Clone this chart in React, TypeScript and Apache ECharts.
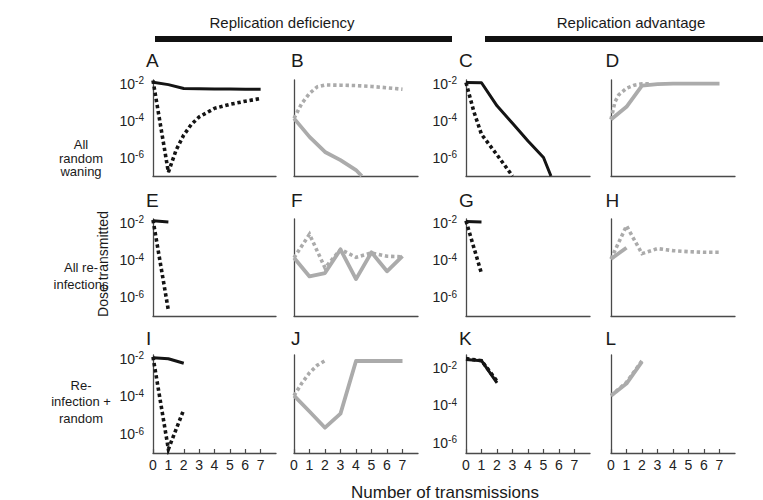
import React, { useEffect, useRef } from 'react';
import * as echarts from 'echarts';

const FONT = '"Liberation Sans", Arial, Helvetica, sans-serif';

const columnTitles = ['Replication deficiency', 'Replication advantage'];
const rowLabels = [['All', 'random', 'waning'], ['All re-', 'infections'], ['Re-', 'infection +', 'random']];
const panelLetters = ['A', 'B', 'C', 'D', 'E', 'F', 'G', 'H', 'I', 'J', 'K', 'L'];
const xTickValues = [0, 1, 2, 3, 4, 5, 6, 7];
const yTickExponents = [-2, -4, -6];
const yAxisTitle = 'Dose transmitted';
const xAxisTitle = 'Number of transmissions';

// Panel A
const aSolidX = [0, 1, 2, 3, 4, 5, 6, 7];
const aSolidY = [1.2e-2, 8.9e-3, 5.5e-3, 5.4e-3, 5.2e-3, 5.1e-3, 5.0e-3, 5.0e-3];
const aDotX = [0, 1, 1.5, 2, 2.5, 3, 4, 5, 6, 7];
const aDotY = [1.5e-2, 1.6e-7, 2.5e-6, 1.66e-5, 6.3e-5, 1.58e-4, 4.6e-4, 7.6e-4, 1.12e-3, 1.58e-3];
// Panel B
const bSolidX = [0, 1, 2, 3, 4, 4.37];
const bSolidY = [1.32e-4, 1.32e-5, 2.0e-6, 7.2e-7, 2.1e-7, 1.0e-7];
const bDotX = [0, 0.5, 1, 1.5, 2, 3, 4, 5, 6, 7];
const bDotY = [1.32e-4, 8.5e-4, 2.95e-3, 6.8e-3, 8.5e-3, 8.3e-3, 7.9e-3, 7.1e-3, 6.0e-3, 5.0e-3];
// Panel C
const cSolidX = [0, 1, 2, 3, 4, 5, 5.48];
const cSolidY = [1.15e-2, 1.12e-2, 6.3e-4, 7.1e-5, 7.9e-6, 1.0e-6, 1.0e-7];
const cDotX = [0, 0.5, 1, 2, 3];
const cDotY = [1.15e-2, 3.2e-4, 1.8e-5, 1.4e-6, 1.0e-7];
// Panel D
const dSolidX = [0, 1, 2, 3, 4, 5, 6, 7];
const dSolidY = [1.15e-4, 5.6e-4, 7.9e-3, 9.5e-3, 1.0e-2, 1.0e-2, 1.0e-2, 1.0e-2];
const dDotX = [0, 0.25, 0.5, 1, 1.5, 2, 2.5];
const dDotY = [1.15e-4, 1.0e-3, 2.5e-3, 5.6e-3, 8.3e-3, 1.0e-2, 1.0e-2];
// Panel E
const eSolidX = [0, 1];
const eSolidY = [1.26e-2, 1.1e-2];
const eDotX = [0, 1];
const eDotY = [1.41e-2, 2.0e-7];
// Panel F
const fSolidX = [0, 1, 2, 3, 4, 5, 6, 7];
const fSolidY = [1.32e-4, 1.32e-5, 2.0e-5, 3.7e-4, 9.5e-6, 2.6e-4, 2.5e-5, 1.6e-4];
const fDotX = [0, 1, 2, 3, 4, 5, 6, 7];
const fDotY = [1.32e-4, 2.4e-3, 3.8e-5, 3.7e-4, 1.4e-4, 2.4e-4, 1.6e-4, 1.5e-4];
// Panel G
const gSolidX = [0, 1];
const gSolidY = [1.15e-2, 1.1e-2];
const gDotX = [0, 1];
const gDotY = [1.26e-2, 1.9e-5];
// Panel H
const hSolidX = [0, 1];
const hSolidY = [1.15e-4, 4.6e-4];
const hDotX = [0, 1, 2, 3, 4, 5, 6, 7];
const hDotY = [1.15e-4, 6.8e-3, 2.2e-4, 4.1e-4, 3.2e-4, 2.8e-4, 2.6e-4, 2.6e-4];
// Panel I
const iSolidX = [0, 1, 2];
const iSolidY = [1.12e-2, 1.0e-2, 5.8e-3];
const iDotX = [0, 1, 2];
const iDotY = [1.26e-2, 1.6e-7, 2.0e-5];
// Panel J
const jSolidX = [0, 1, 2, 3, 4, 5, 6, 7];
const jSolidY = [1.1e-4, 1.6e-5, 2.2e-6, 1.23e-5, 7.6e-3, 7.6e-3, 7.6e-3, 7.6e-3];
const jDotX = [0, 0.5, 1, 1.5, 2];
const jDotY = [1.1e-4, 5.0e-4, 1.8e-3, 4.5e-3, 7.9e-3];
// Panel K
const kSolidX = [0, 1, 2];
const kSolidY = [2.9e-2, 2.5e-2, 1.6e-3];
const kDotX = [0, 1, 2];
const kDotY = [3.2e-2, 2.5e-2, 2.0e-3];
// Panel L
const lSolidX = [0, 1, 2];
const lSolidY = [1.1e-4, 4.8e-4, 7.1e-3];
const lDotX = [0, 1, 2];
const lDotY = [1.1e-4, 5.6e-4, 7.9e-3];

// y-axis ranges (standard panels and panel K)
const yRangeStd = [1e-7, 0.01585];
const yRangeK = [2.82e-7, 5.01e-2];

const panels = [
  [aSolidX, aSolidY, aDotX, aDotY],
  [bSolidX, bSolidY, bDotX, bDotY],
  [cSolidX, cSolidY, cDotX, cDotY],
  [dSolidX, dSolidY, dDotX, dDotY],
  [eSolidX, eSolidY, eDotX, eDotY],
  [fSolidX, fSolidY, fDotX, fDotY],
  [gSolidX, gSolidY, gDotX, gDotY],
  [hSolidX, hSolidY, hDotX, hDotY],
  [iSolidX, iSolidY, iDotX, iDotY],
  [jSolidX, jSolidY, jDotX, jDotY],
  [kSolidX, kSolidY, kDotX, kDotY],
  [lSolidX, lSolidY, lDotX, lDotY],
];

const colLeft = [153, 294, 466, 611];
const colWidth = [123, 124, 124, 124];
const rowTop = [80, 219, 355];
const rowHeight = [96, 97, 98];
const letterX = [146, 291, 459, 605.5];
const letterY = [60.5, 200, 338];

const BLACK = '#141414';
const GRAY = '#ababab';
const AXIS = '#4a4a4a';

export default function App() {
  const ref = useRef<HTMLDivElement>(null);

  useEffect(() => {
    if (!ref.current) return;
    const chart = echarts.init(ref.current, undefined, { renderer: 'svg' });

    const grids: any[] = [];
    const xAxes: any[] = [];
    const yAxes: any[] = [];
    const series: any[] = [];

    panels.forEach((p, idx) => {
      const row = Math.floor(idx / 4);
      const col = idx % 4;
      const isBlack = col === 0 || col === 2;
      const color = isBlack ? BLACK : GRAY;
      const bottomRow = row === 2;
      const range = idx === 10 ? yRangeK : yRangeStd;

      grids.push({ left: colLeft[col], top: rowTop[row], width: colWidth[col], height: rowHeight[row], containLabel: false });
      xAxes.push({
        type: 'value', gridIndex: idx, min: 0, max: 8, interval: 1,
        axisLine: { show: true, lineStyle: { color: AXIS, width: 1.3 } },
        splitLine: { show: false },
        axisTick: { show: bottomRow, inside: true, length: 4, customValues: xTickValues, lineStyle: { color: AXIS, width: 1.2 } },
        axisLabel: {
          show: bottomRow, customValues: xTickValues, fontSize: 14, color: '#222', margin: 5, fontFamily: FONT,
          formatter: (v: number) => (xTickValues.includes(v) ? String(v) : ''),
        },
      });
      yAxes.push({
        type: 'log', logBase: 10, gridIndex: idx, min: range[0], max: range[1],
        axisLine: { show: true, lineStyle: { color: AXIS, width: 1.3 } },
        splitLine: { show: false },
        axisTick: { show: false },
        axisLabel: {
          show: col === 0 || col === 2,
          margin: 9,
          showMinLabel: true, showMaxLabel: true,
          formatter: (v: number) => {
            const e = Math.round(Math.log10(v) * 100) / 100;
            return yTickExponents.includes(e) ? `{b|10}{s|${e}}` : '';
          },
          rich: {
            b: { fontSize: 14, color: '#222', fontFamily: FONT, lineHeight: 16 },
            s: { fontSize: 10, color: '#222', fontFamily: FONT, lineHeight: 10, verticalAlign: 'top' },
          },
        },
      });
      const [sx, sy, dx, dy] = p;
      series.push({
        type: 'line', xAxisIndex: idx, yAxisIndex: idx, symbol: 'none', silent: true,
        data: dx.map((x: number, i: number) => [x, dy[i]]),
        lineStyle: { color, width: 3.6, type: [3.4, 2.8], cap: 'butt', join: 'miter' },
      });
      series.push({
        type: 'line', xAxisIndex: idx, yAxisIndex: idx, symbol: 'none', silent: true,
        data: sx.map((x: number, i: number) => [x, sy[i]]),
        lineStyle: { color, width: isBlack ? 3 : 3.8, type: 'solid', cap: 'butt', join: 'round' },
      });
    });

    const txt = (text: string, x: number, y: number, fontSize: number, align = 'center', extra: any = {}) => ({
      type: 'text', x, y, silent: true, ...extra,
      style: { text, fontSize, fontFamily: FONT, fill: '#1a1a1a', align, verticalAlign: 'middle', textAlign: align, textVerticalAlign: 'middle' },
    });

    const graphics: any[] = [
      txt(columnTitles[0], 282, 22, 15),
      txt(columnTitles[1], 631, 22, 15),
      { type: 'rect', silent: true, shape: { x: 155, y: 36, width: 297, height: 6 }, style: { fill: '#111' } },
      { type: 'rect', silent: true, shape: { x: 485, y: 36, width: 278, height: 6 }, style: { fill: '#111' } },
      txt(rowLabels[0][0], 81, 144, 13), txt(rowLabels[0][1], 81, 158, 13), txt(rowLabels[0][2], 81, 171.5, 13),
      txt(rowLabels[1][0], 81, 267, 13), txt(rowLabels[1][1], 81, 284, 13),
      txt(rowLabels[2][0], 81, 385, 13), txt(rowLabels[2][1], 81, 401, 13), txt(rowLabels[2][2], 81, 418, 13),
      txt(yAxisTitle, 103, 264, 14, 'center', { rotation: Math.PI / 2 }),
      txt(xAxisTitle, 445, 492, 17),
    ];
    panelLetters.forEach((l, idx) => {
      graphics.push(txt(l, letterX[idx % 4], letterY[Math.floor(idx / 4)], 19, 'left'));
    });

    chart.setOption({
      animation: false,
      textStyle: { fontFamily: FONT },
      grid: grids,
      xAxis: xAxes,
      yAxis: yAxes,
      series,
      graphic: { elements: graphics },
    });

    return () => chart.dispose();
  }, []);

  return <div ref={ref} style={{ position: 'absolute', left: 0, top: 0, width: 763, height: 500, background: '#fff' }} />;
}
